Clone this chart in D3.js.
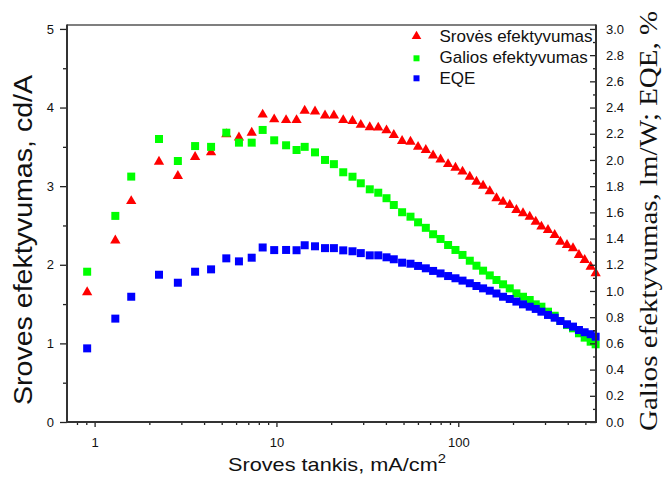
<!DOCTYPE html>
<html>
<head>
<meta charset="utf-8">
<script src="https://cdn.jsdelivr.net/npm/d3@7"></script>
<style>
  html, body { margin: 0; padding: 0; background: #fff; }
  svg { display: block; }
  .tick text { font-family: "Liberation Sans", Arial, sans-serif; font-size: 13px; fill: #111; }
  .tick line { stroke: #222; stroke-width: 1.3; }
</style>
</head>
<body>
<svg id="chart" width="666" height="481"></svg>
<script>
// Current density, mA/cm^2
const currentDensity = [0.91, 1.30, 1.59, 2.26, 2.87, 3.57, 4.37, 5.30, 6.22, 7.31,
  8.40, 9.72, 11.3, 12.9, 14.3, 16.3, 18.5, 20.7, 23.3, 26.2,
  29.1, 32.6, 36.3, 40.3, 44.2, 49.1, 54.6, 60.1, 66.3, 72.7,
  79.9, 87.9, 96.5, 105.5, 115.7, 125.9, 136.9, 149.0, 162.2, 176.3,
  191.9, 208.8, 227.0, 247.1, 266.7, 286.5, 311.4, 339.0, 364.3, 396.1,
  427.4, 461.0, 495.6, 534.6, 569.4];

// Current efficiency, cd/A (left axis)
const currentEff = [1.65, 2.31, 2.81, 3.31, 3.13, 3.37, 3.43, 3.66, 3.62, 3.68,
  3.91, 3.85, 3.84, 3.84, 3.96, 3.95, 3.90, 3.90, 3.84, 3.83,
  3.78, 3.75, 3.745, 3.71, 3.65, 3.575, 3.565, 3.50, 3.46, 3.39,
  3.34, 3.28, 3.235, 3.185, 3.12, 3.057, 3.006, 2.935, 2.846, 2.80,
  2.76, 2.697, 2.655, 2.612, 2.548, 2.485, 2.443, 2.379, 2.294, 2.252,
  2.21, 2.125, 2.061, 1.976, 1.892];

// Power efficiency, lm/W (right axis)
const powerEff = [1.147, 1.573, 1.873, 2.16, 1.992, 2.106, 2.10, 2.208, 2.132, 2.132,
  2.229, 2.150, 2.112, 2.076, 2.10, 2.058, 2.0, 1.968, 1.906, 1.872,
  1.822, 1.776, 1.75, 1.708, 1.656, 1.601, 1.567, 1.524, 1.482, 1.433,
  1.397, 1.351, 1.313, 1.275, 1.231, 1.193, 1.155, 1.119, 1.084, 1.051,
  1.02, 0.982, 0.956, 0.931, 0.898, 0.880, 0.842, 0.811, 0.771, 0.740,
  0.715, 0.677, 0.644, 0.613, 0.593];

// External quantum efficiency, % (right axis)
const eqe = [0.562, 0.789, 0.956, 1.124, 1.063, 1.147, 1.165, 1.249, 1.226, 1.254,
  1.332, 1.312, 1.313, 1.311, 1.349, 1.341, 1.327, 1.327, 1.310, 1.303,
  1.289, 1.272, 1.272, 1.257, 1.242, 1.216, 1.208, 1.191, 1.173, 1.153,
  1.134, 1.114, 1.097, 1.079, 1.059, 1.038, 1.02, 1.002, 0.981, 0.956,
  0.939, 0.919, 0.898, 0.880, 0.863, 0.842, 0.817, 0.796, 0.771, 0.746,
  0.728, 0.702, 0.685, 0.670, 0.651];

const seriesNames = ["Srovės efektyvumas", "Galios efektyvumas", "EQE"];
const seriesColors = ["#ff0000", "#00ff00", "#0000ff"];

const leftTicks = [0, 1, 2, 3, 4, 5];
const rightTicks = d3.range(0, 3.01, 0.2);
const xTicks = [1, 10, 100];

const svg = d3.select("#chart");
const L = 67, R = 596, T = 25, B = 422;

const x = d3.scaleLog().domain([0.705, 572]).range([L, R]);
const yL = d3.scaleLinear().domain([0, 5.05]).range([B, T]);
const yR = d3.scaleLinear().domain([0, 3.03]).range([B, T]);

const tri = d3.symbol().type(d3.symbolTriangle).size(46);
const sq = d3.symbol().type(d3.symbolSquare).size(64);

const pts = currentDensity.map((d, i) => ({ x: d, c: currentEff[i], p: powerEff[i], e: eqe[i] }));

// markers
const g = svg.append("g");
g.selectAll(".red").data(pts).join("path")
  .attr("d", tri).attr("fill", seriesColors[0])
  .attr("transform", d => `translate(${x(d.x)},${yL(d.c)})`);
g.selectAll(".green").data(pts).join("path")
  .attr("d", sq).attr("fill", seriesColors[1])
  .attr("transform", d => `translate(${x(d.x)},${yR(d.p)})`);
g.selectAll(".blue").data(pts).join("path")
  .attr("d", sq).attr("fill", seriesColors[2])
  .attr("transform", d => `translate(${x(d.x)},${yR(d.e)})`);

// minor tick values
const xMinor = [];
[0.1, 1, 10, 100].forEach(dec => { for (let k = 2; k <= 9; k++) { const v = k * dec; if (v >= 0.705 && v <= 572 && ![1,10,100].includes(v)) xMinor.push(v); } });

// left axis
svg.append("g").attr("transform", `translate(${L},0)`)
  .call(d3.axisLeft(yL).tickValues(leftTicks).tickFormat(d3.format("d")).tickSize(7).tickPadding(6))
  .call(a => a.select(".domain").remove());
svg.append("g").attr("transform", `translate(${L},0)`)
  .call(d3.axisLeft(yL).tickValues([0.5, 1.5, 2.5, 3.5, 4.5]).tickFormat("").tickSize(4))
  .call(a => a.select(".domain").remove());

// right axis (inward ticks)
svg.append("g").attr("transform", `translate(${R},0)`)
  .call(d3.axisRight(yR).tickValues(rightTicks).tickFormat(d3.format(".1f")).tickSizeInner(-6).tickSizeOuter(0).tickPadding(10))
  .call(a => a.select(".domain").remove());
svg.append("g").attr("transform", `translate(${R},0)`)
  .call(d3.axisRight(yR).tickValues(d3.range(0.1, 3.0, 0.2)).tickFormat("").tickSizeInner(-3).tickSizeOuter(0))
  .call(a => a.select(".domain").remove());

// bottom axis
svg.append("g").attr("transform", `translate(0,${B})`)
  .call(d3.axisBottom(x).tickValues(xTicks).tickFormat(d3.format("d")).tickSize(5).tickPadding(11))
  .call(a => a.select(".domain").remove());
svg.append("g").attr("transform", `translate(0,${B})`)
  .call(d3.axisBottom(x).tickValues(xMinor).tickFormat("").tickSize(3))
  .call(a => a.select(".domain").remove());

// frame
svg.append("line").attr("x1", L).attr("x2", R).attr("y1", T).attr("y2", T).attr("stroke", "#555").attr("stroke-width", 1.3);
svg.append("line").attr("x1", L).attr("x2", L).attr("y1", T - 0.6).attr("y2", B + 1).attr("stroke", "#333").attr("stroke-width", 2);
svg.append("line").attr("x1", R).attr("x2", R).attr("y1", T - 0.6).attr("y2", B + 1).attr("stroke", "#333").attr("stroke-width", 2);
svg.append("line").attr("x1", L - 1).attr("x2", R + 1).attr("y1", B).attr("y2", B).attr("stroke", "#333").attr("stroke-width", 2);

// legend
const legendRows = [
  { name: seriesNames[0], color: seriesColors[0], shape: "tri", my: 36.3, ty: 41.7 },
  { name: seriesNames[1], color: seriesColors[1], shape: "sq", my: 58.3, ty: 63.4 },
  { name: seriesNames[2], color: seriesColors[2], shape: "sq", my: 78.3, ty: 84.3 }
];
const lg = svg.append("g");
legendRows.forEach(r => {
  lg.append("path")
    .attr("d", r.shape === "tri" ? d3.symbol().type(d3.symbolTriangle).size(40)() : d3.symbol().type(d3.symbolSquare).size(36)())
    .attr("fill", r.color)
    .attr("transform", `translate(416.5,${r.my})`);
  lg.append("text").attr("x", 439.5).attr("y", r.ty)
    .attr("font-family", "'Liberation Sans', Arial, sans-serif").attr("font-size", 17).attr("fill", "#111")
    .text(r.name);
});

// axis titles
svg.append("text")
  .attr("transform", "translate(31.5,240) rotate(-90)")
  .attr("text-anchor", "middle")
  .attr("font-family", "'Liberation Sans', Arial, sans-serif").attr("font-size", 25).attr("fill", "#111")
  .attr("textLength", 330).attr("lengthAdjust", "spacingAndGlyphs")
  .text("Sroves efektyvumas, cd/A");

const xt = svg.append("text")
  .attr("x", 228).attr("y", 471)
  .attr("font-family", "'Liberation Sans', Arial, sans-serif").attr("font-size", 19).attr("fill", "#111")
  .attr("textLength", 218).attr("lengthAdjust", "spacingAndGlyphs");
xt.append("tspan").text("Sroves tankis, mA/cm");
xt.append("tspan").attr("font-size", 13).attr("dy", -8).text("2");

svg.append("text")
  .attr("transform", "translate(656.5,221) rotate(-90)")
  .attr("text-anchor", "middle")
  .attr("font-family", "'Liberation Serif', 'Times New Roman', serif").attr("font-size", 25).attr("fill", "#111")
  .attr("textLength", 420).attr("lengthAdjust", "spacingAndGlyphs")
  .text("Galios efektyvumas, lm/W; EQE, %");
</script>
</body>
</html>
